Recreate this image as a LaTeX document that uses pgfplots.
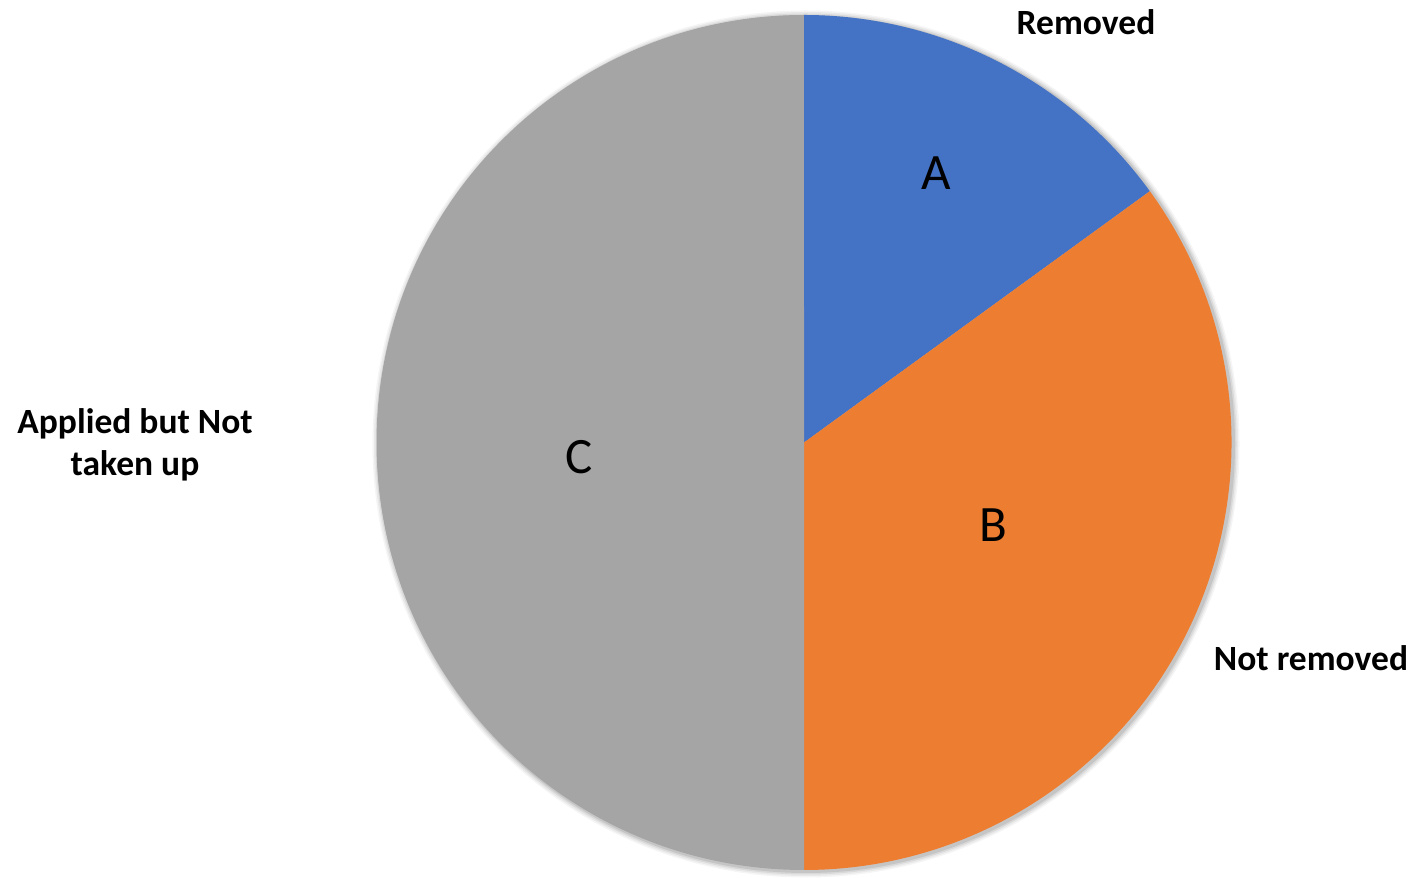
\documentclass[border=0pt]{standalone}
\usepackage{pgfplots}
\usepackage{pgfplotstable}
\usepackage{fontspec}
\setmainfont{Carlito}
\pgfplotsset{compat=1.18}
\definecolor{cA}{HTML}{4472C4}
\definecolor{cB}{HTML}{ED7D31}
\definecolor{cC}{HTML}{A5A5A5}
\pgfplotstableread{
label value
A 15
B 35
C 50
}\piedata
\begin{document}
\begin{tikzpicture}
\pgfplotstablegetelem{0}{value}\of\piedata \let\va\pgfplotsretval
\pgfplotstablegetelem{1}{value}\of\piedata \let\vb\pgfplotsretval
\pgfplotstablegetelem{2}{value}\of\piedata \let\vc\pgfplotsretval
\pgfmathsetmacro\tot{\va+\vb+\vc}
\pgfmathsetmacro\aA{90-\va/\tot*360}
\pgfmathsetmacro\aB{\aA-\vb/\tot*360}
\pgfmathsetmacro\aC{\aB-\vc/\tot*360}
\begin{axis}[
  scale only axis, width=1415pt, height=872pt,
  xmin=0, xmax=1415, ymin=0, ymax=872,
  hide axis, clip=false,
]
\path (axis cs:0,0) rectangle (axis cs:1415,872);
% soft shadow
\fill[black,opacity=0.04] (axis cs:806,428) circle[radius=433.5pt];
\fill[black,opacity=0.05] (axis cs:806,428) circle[radius=432pt];
\fill[black,opacity=0.07] (axis cs:806,428) circle[radius=430.5pt];
\fill[black,opacity=0.09] (axis cs:806,428) circle[radius=429pt];
\fill[cA] (axis cs:804,429.5) -- ++(90:427.5pt) arc[start angle=90, end angle=\aA, radius=427.5pt] -- cycle;
\fill[cB] (axis cs:804,429.5) -- ++(\aA:427.5pt) arc[start angle=\aA, end angle=\aB, radius=427.5pt] -- cycle;
\fill[cC] (axis cs:804,429.5) -- ++(\aB:427.5pt) arc[start angle=\aB, end angle=\aC, radius=427.5pt] -- cycle;
\node[font=\fontsize{51}{60}\selectfont] at (axis cs:936,699) {A};
\node[font=\fontsize{51}{60}\selectfont] at (axis cs:993,347) {B};
\node[font=\fontsize{51}{60}\selectfont] at (axis cs:579,415) {C};
\node[font=\fontsize{35.5}{42}\selectfont\bfseries] at (axis cs:1086,850) {Removed};
\node[font=\fontsize{35.5}{42}\selectfont\bfseries] at (axis cs:1311,214) {Not removed};
\node[font=\fontsize{35.5}{42}\selectfont\bfseries, align=center] at (axis cs:135,427) {Applied but Not\\taken up};
\end{axis}
\end{tikzpicture}
\end{document}
